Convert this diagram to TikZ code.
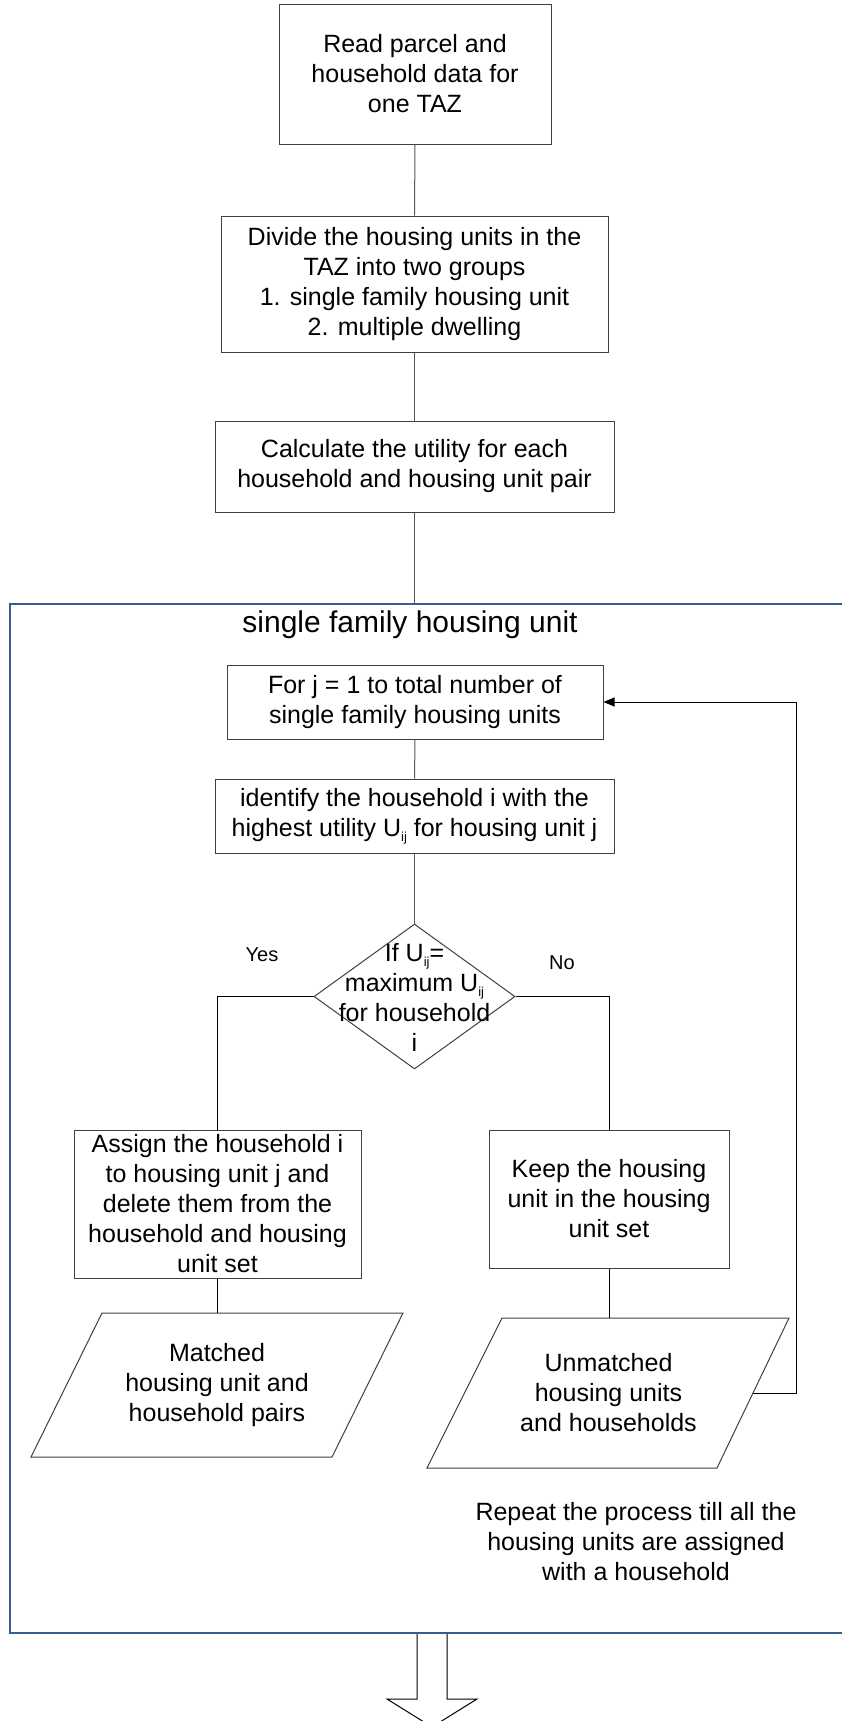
\documentclass[tikz,border=0pt]{standalone}
\usepackage{fontspec}
\setmainfont{Liberation Sans}
\usetikzlibrary{arrows.meta,shapes.geometric,calc}
\definecolor{frameblue}{RGB}{56,93,138}
\definecolor{boxline}{RGB}{64,64,64}
\definecolor{connline}{RGB}{89,89,89}
\newcommand{\fsmain}{\fontsize{25}{30}\selectfont}
\newcommand{\fstitle}{\fontsize{30}{36}\selectfont}
\newcommand{\fssmall}{\fontsize{20}{24}\selectfont}
\newcommand{\Uij}{U\raisebox{-5pt}{\fontsize{13}{13}\selectfont ij}}
\begin{document}
\begin{tikzpicture}[x=1pt,y=-1pt,
  pbox/.style={draw=boxline, line width=1pt, fill=white, align=center, inner sep=0pt, font=\fsmain},
  conn/.style={draw=connline, line width=1pt},
  txt/.style={align=center, inner sep=0pt, font=\fsmain},
  lbl/.style={inner sep=0pt, font=\fssmall},
  shapeline/.style={draw=boxline, line width=1pt},
  fbline/.style={draw=black, line width=1pt},
  hollow/.style={draw=black, line width=1pt, fill=white}]
\useasboundingbox (0,0) rectangle (842,1721);

% container
\node[draw=frameblue, line width=2pt, minimum width=844pt, minimum height=1029pt, inner sep=0pt] (frame) at (432,1118.5) {};
\node[inner sep=0pt, font=\fstitle] (title) at (410,625) {single family housing unit};

% top boxes
\node[pbox, minimum width=272pt, minimum height=140pt] (read) at (415,74) {Read parcel and\\household data for\\one TAZ};
\node[pbox, minimum width=387pt, minimum height=136pt] (divide) at (414.5,284) {Divide the housing units in the\\TAZ into two groups\\1. single family housing unit\\2. multiple dwelling};
\node[pbox, minimum width=399pt, minimum height=91pt] (calc) at (414.5,466.5) {Calculate the utility for each\\household and housing unit pair};

% loop boxes
\node[pbox, minimum width=376pt, minimum height=74pt] (forj) at (415,702) {For j = 1 to total number of\\single family housing units};
\node[pbox, minimum width=399pt, minimum height=74pt] (ident) at (414.5,816) {identify the household i with the\\highest utility \Uij{} for housing unit j};

% decision
\node[shapeline, diamond, fill=white, minimum width=201pt, minimum height=145pt, inner sep=0pt] (dec) at (414.5,996.5) {};
\node[txt] (dectxt) at (414.5,997.5) {If \Uij=\\maximum \Uij\\for household\\i};
\node[lbl] (yes) at (262,955) {Yes};
\node[lbl] (no) at (562,963) {No};

% branch boxes
\node[pbox, minimum width=287pt, minimum height=148pt] (assign) at (217.5,1204) {Assign the household i\\to housing unit j and\\delete them from the\\household and housing\\unit set};
\node[pbox, minimum width=240pt, minimum height=138pt] (keep) at (609,1199) {Keep the housing\\unit in the housing\\unit set};

% parallelograms
\coordinate (mtop) at (217.5,1313);
\coordinate (utop) at (609,1318);
\coordinate (uright) at (753,1393);
\draw[shapeline, fill=white] (102,1313) -- (403,1313) -- (332,1457) -- (31,1457) -- cycle;
\node[txt] (matched) at (217,1385) {Matched\\housing unit and\\household pairs};
\draw[shapeline, fill=white] (502,1318) -- (789,1318) -- (717,1468) -- (427,1468) -- cycle;
\node[txt] (unmatched) at (608.5,1393) {Unmatched\\housing units\\and households};

\node[txt] (repeat) at (636,1542) {Repeat the process till all the\\housing units are assigned\\with a household};

% connectors
\draw[conn] (read.south) -- (divide.north);
\draw[conn] (divide.south) -- (calc.north);
\draw[conn] (calc.south) -- (calc.south |- frame.north);
\draw[conn] (forj.south) -- (ident.north);
\draw[conn] (ident.south) -- (dec.north);
\draw[fbline] (dec.west) -| (assign.north);
\draw[fbline] (dec.east) -| (keep.north);
\draw[fbline] (assign.south) -- (mtop);
\draw[fbline] (keep.south) -- (utop);
\draw[fbline, -{Triangle[length=11pt,width=9pt]}] (uright) -- ++(43,0) |- (forj.east);

% outgoing hollow arrow
\draw[hollow] ($(frame.south)+(-15,0)$) -- ++(0,65) -- ++(-30,0) -- ($(frame.south)+(0,93)$) -- ($(frame.south)+(45,65)$) -- ++(-30,0) -- ($(frame.south)+(15,0)$);
\end{tikzpicture}
\end{document}
